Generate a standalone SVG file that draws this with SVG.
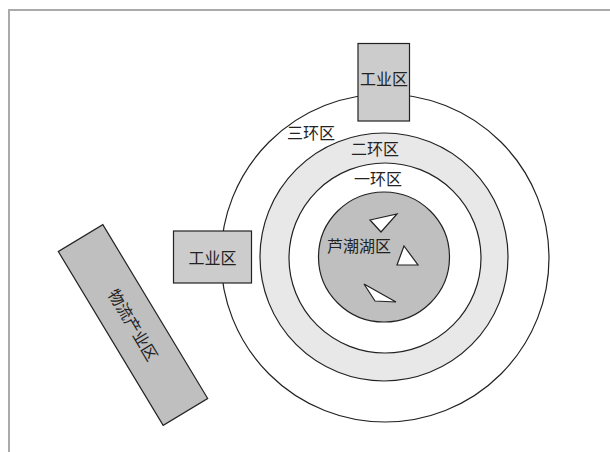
<svg xmlns="http://www.w3.org/2000/svg" width="610" height="452" viewBox="0 0 610 452">
<style>
.ln{stroke:#222;stroke-width:1.2}
.t{font-family:"Liberation Serif","Noto Sans CJK SC",serif;font-size:16px;fill:#222;text-anchor:middle}
.tri{fill:#fff;stroke:#222;stroke-width:1.2}
</style>
<rect width="610" height="452" fill="#fff"/>
<path d="M9 452 V10 H610" fill="none" stroke="#aaa" stroke-width="2"/>
<g id="ring3">
<ellipse cx="385" cy="258" rx="164" ry="164" fill="#fff" class="ln"/>
</g>
<g id="ring2">
<ellipse cx="384" cy="257" rx="124" ry="124" fill="#e8e8e8" class="ln"/>
</g>
<g id="ring1">
<ellipse cx="385" cy="258" rx="96" ry="95" fill="#fff" class="ln"/>
</g>
<g id="lake">
<ellipse cx="384" cy="257" rx="65.5" ry="65" fill="#bfbfbf" class="ln"/>
<polygon class="tri" points="370,220 397,214 381,232"/>
<polygon class="tri" points="404,246 397,265 418,265"/>
<polygon class="tri" points="364,284 375,301 396,302"/>
<text class="t" x="359" y="252" font-size="17">芦潮湖区</text>
</g>
<g id="labels">
<text class="t" x="311" y="139">三环区</text>
<text class="t" x="375" y="155">二环区</text>
<text class="t" x="378" y="185">一环区</text>
</g>
<g id="industry-top">
<rect x="358" y="43.5" width="51.5" height="77.5" fill="#cccccc" class="ln"/>
<text class="t" x="384" y="85" font-size="17">工业区</text>
</g>
<g id="industry-left">
<rect x="173.5" y="231" width="78" height="52" fill="#cccccc" class="ln"/>
<text class="t" x="212.5" y="264" font-size="17">工业区</text>
</g>
<g id="logistics" transform="translate(133,325) rotate(58.9)">
<rect x="-101.5" y="-26" width="203" height="52" fill="#bfbfbf" class="ln"/>
<text class="t" x="0" y="6" font-size="17">物流产业区</text>
</g>
<g id="connectors"/>
</svg>
